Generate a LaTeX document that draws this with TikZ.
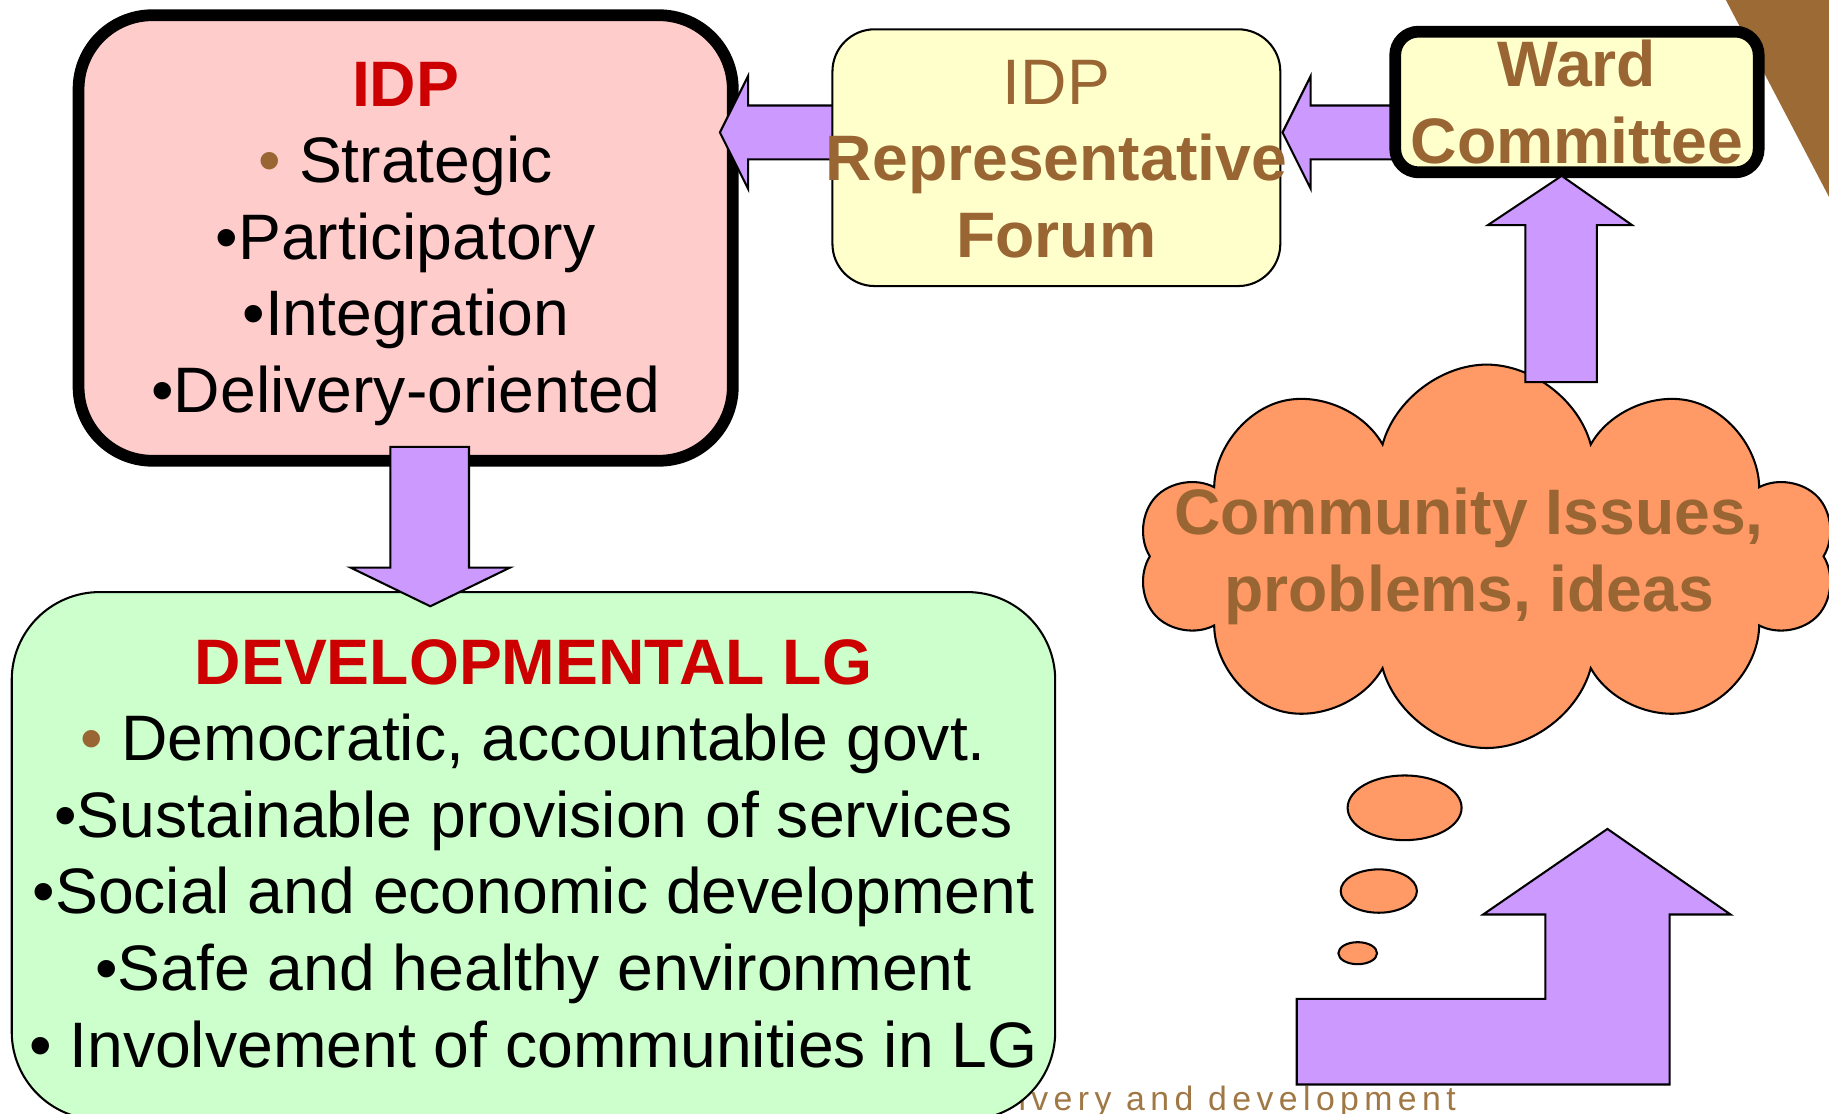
\documentclass[tikz,border=0pt]{standalone}
\usepackage{fontspec}
\setmainfont{Liberation Sans}
\usetikzlibrary{shapes.symbols}

\definecolor{idpred}{HTML}{CC0000}
\definecolor{txtbrown}{HTML}{996633}
\definecolor{boxpink}{HTML}{FFCCCC}
\definecolor{boxyellow}{HTML}{FFFFCC}
\definecolor{boxgreen}{HTML}{CCFFCC}
\definecolor{arrowpurple}{HTML}{CC99FF}
\definecolor{cloudorange}{HTML}{FF9966}
\definecolor{cornerbrown}{HTML}{9C6A34}
\definecolor{footbrown}{HTML}{A07846}

\newcommand{\bodysize}{\fontsize{15.6}{18.6}\selectfont}

\begin{document}
\begin{tikzpicture}[
    every node/.style={align=center, inner sep=0pt},
    bodytext/.style={font=\bodysize},
    boldtext/.style={font=\bodysize\bfseries},
    thickbox/.style={draw=black, line width=2.85pt, rounded corners=#1},
    thinbox/.style={draw=black, line width=0.5pt, rounded corners=#1},
    blockarrow/.style={draw=black, line width=0.5pt, line join=miter, fill=arrowpurple},
    bubble/.style={draw=black, line width=0.5pt, fill=cloudorange}
]
    \useasboundingbox (0,0) rectangle (15.6,9.5);
    \clip (0,0) rectangle (15.6,9.5);

    % corner of the slide
    \fill[cornerbrown] (14.72,9.5) -- (15.6,9.5) -- (15.6,7.82) -- cycle;

    % footer, partly hidden by the green box
    \node[anchor=base west, text=footbrown, font=\fontsize{8.2}{9}\selectfont\addfontfeature{LetterSpace=16}] (foot) at (8.68,0.03) {ivery and development};

    % IDP
    \node[thickbox=0.63cm, fill=boxpink, minimum width=5.58cm, minimum height=3.80cm] (idp) at (3.46,7.47) {};
    \node[bodytext] (idptext) at ([yshift=-0.05cm]idp.center) {\textcolor{idpred}{\textbf{IDP}}\\
        \textcolor{txtbrown}{•} Strategic\\•Participatory\\•Integration\\•Delivery-oriented};

    \draw[blockarrow] ([shift={(-0.16,0.90)}]idp.east) -- ++(0.24,0.48) -- ++(0,-0.25) -- ++(1.0,0)
        -- ++(0,-0.46) -- ++(-1.0,0) -- ++(0,-0.25) -- cycle;

    % forum
    \node[thinbox=0.36cm, fill=boxyellow, minimum width=3.82cm, minimum height=2.19cm] (forum) at (9.01,8.155) {};
    \node[bodytext, text=txtbrown] (forumtext) at ([yshift=-0.01cm]forum.center) {IDP\\\textbf{Representative}\\\textbf{Forum}};

    \draw[blockarrow] ([shift={(0.01,0.215)}]forum.east) -- ++(0.24,0.48) -- ++(0,-0.25) -- ++(0.9,0)
        -- ++(0,-0.46) -- ++(-0.9,0) -- ++(0,-0.25) -- cycle;

    % ward committee
    \node[thickbox=0.20cm, fill=boxyellow, minimum width=3.10cm, minimum height=1.20cm] (ward) at (13.45,8.63) {};
    \node[boldtext, text=txtbrown] (wardtext) at (ward.center) {Ward\\Committee};

    % developmental LG
    \node[thinbox=0.75cm, fill=boxgreen, minimum width=8.90cm, minimum height=4.50cm] (dlg) at (4.55,2.20) {};
    \node[bodytext] (dlgtext) at ([yshift=0.02cm]dlg.center) {\textcolor{idpred}{\textbf{DEVELOPMENTAL LG}}\\
        \textcolor{txtbrown}{•} Democratic, accountable govt.\\
        •Sustainable provision of services\\
        •Social and economic development\\
        •Safe and healthy environment\\
        • Involvement of communities in LG};

    \draw[blockarrow] ([shift={(-0.88,-0.13)}]dlg.north) -- ++(0.68,0.33) -- ++(-0.35,0) -- ++(0,1.03)
        -- ++(-0.67,0) -- ++(0,-1.03) -- ++(-0.34,0) -- cycle;

    % community cloud
    \node[cloud, cloud puffs=10, draw=black, line width=0.5pt, fill=cloudorange,
        minimum width=5.94cm, minimum height=3.27cm] (issues) at (12.68,4.755) {};
    \node[boldtext, text=txtbrown] (issuestext) at ([xshift=-0.15cm]issues.center) {Community Issues,\\problems, ideas};

    \draw[blockarrow] ([shift={(-0.13,0.02)}]ward.south) -- ++(0.60,-0.42) -- ++(-0.30,0) -- ++(0,-1.34)
        -- ++(-0.61,0) -- ++(0,1.34) -- ++(-0.32,0) -- cycle;

    % thought bubbles
    \draw[bubble] (11.98,2.61) ellipse (0.486 and 0.276);
    \draw[bubble] (11.76,1.90) ellipse (0.325 and 0.185);
    \draw[bubble] (11.58,1.37) ellipse (0.165 and 0.094);

    % bent arrow
    \draw[blockarrow] (11.06,0.25) -- (11.06,0.98) -- (13.18,0.98) -- (13.18,1.70) -- (12.65,1.70)
        -- (13.71,2.43) -- (14.76,1.70) -- (14.24,1.70) -- (14.24,0.25) -- cycle;

\end{tikzpicture}
\end{document}
